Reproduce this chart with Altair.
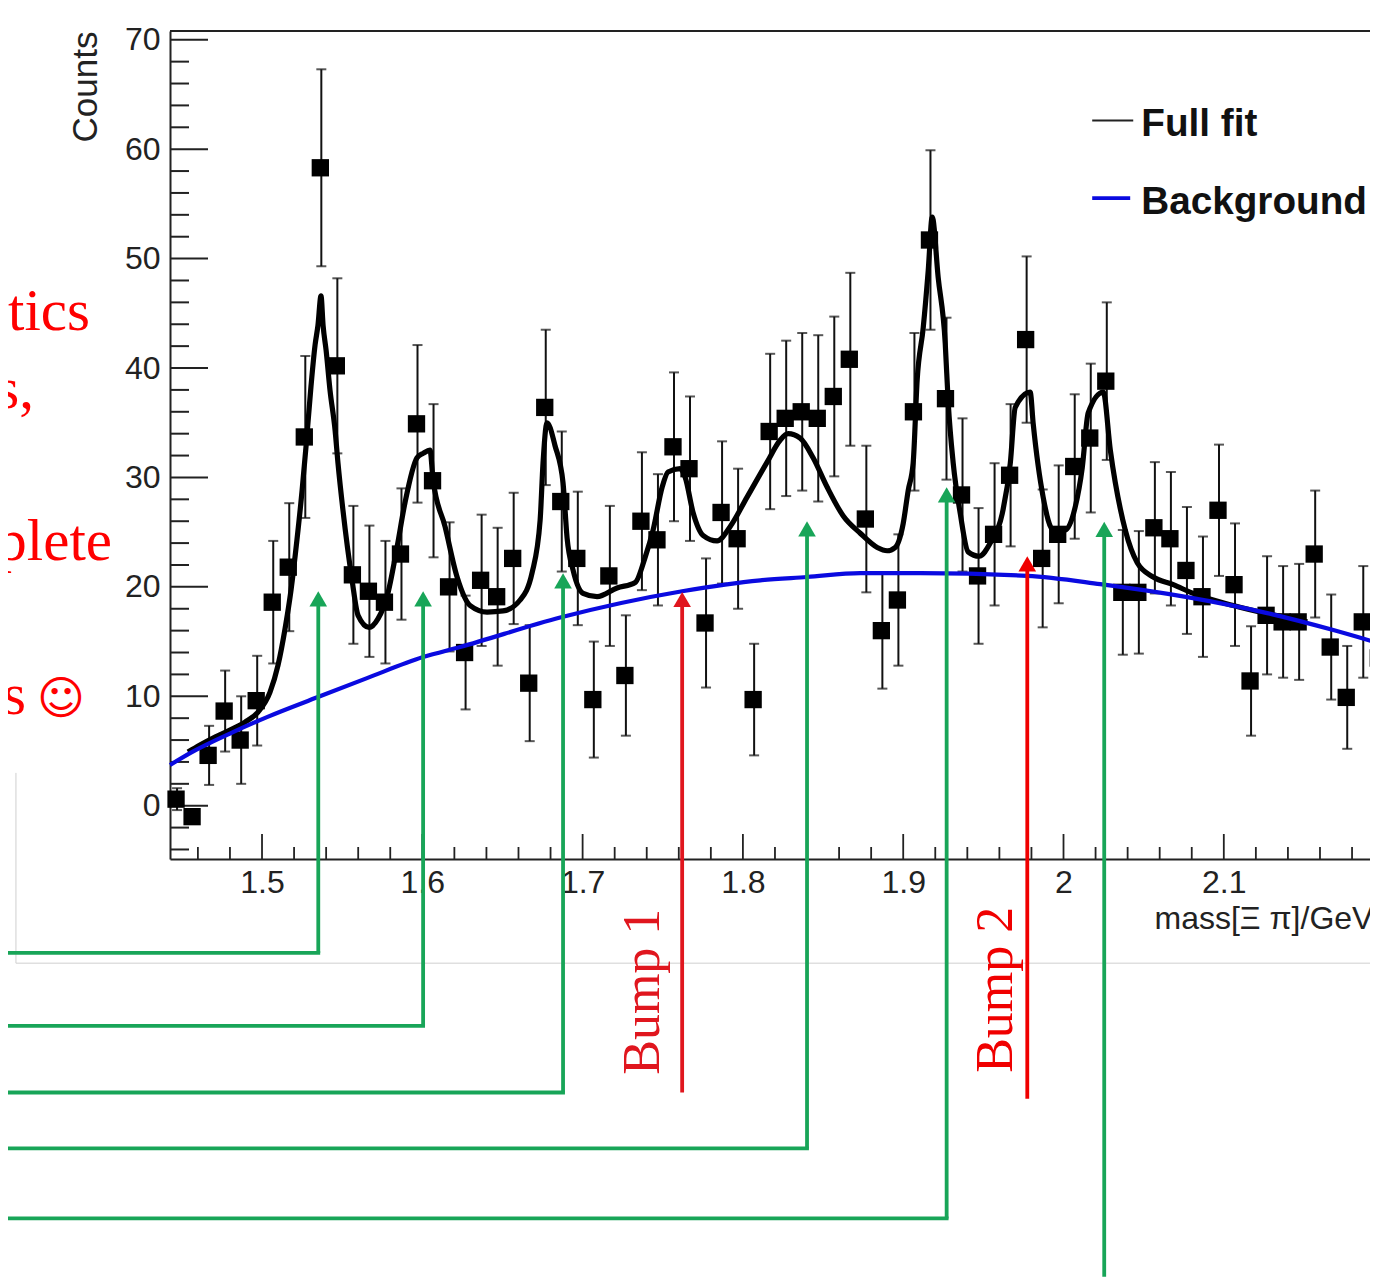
import altair as alt
import pandas as pd

# ---- measured data -------------------------------------------------------
bin_x = [1.447,1.457,1.467,1.477,1.487,1.497,1.507,1.517,1.527,1.537,1.547,1.557,1.567,1.577,1.587,1.597,
         1.607,1.617,1.627,1.637,1.647,1.657,1.667,1.677,1.687,1.697,1.707,1.717,1.727,1.737,1.747,1.757,
         1.767,1.777,1.787,1.797,1.807,1.817,1.827,1.837,1.847,1.857,1.867,1.877,1.887,1.897,1.907,1.917,
         1.927,1.937,1.947,1.957,1.967,1.977,1.987,1.997,2.007,2.017,2.027,2.037,2.047,2.057,2.067,2.077,
         2.087,2.097,2.107,2.117,2.127,2.137,2.147,2.157,2.167,2.177,2.187,2.197]
counts = [0.6,-1.0,4.6,8.65,6.0,9.6,18.6,21.8,33.7,58.3,40.2,21.1,19.6,18.6,23.0,34.9,
          29.7,20.0,14.0,20.6,19.1,22.6,11.2,36.4,27.8,22.6,9.7,21.0,11.9,26.0,24.3,32.8,
          30.8,16.7,26.8,24.4,9.7,34.2,35.4,36.0,35.4,37.4,40.8,26.2,16.0,18.8,36.0,51.7,
          37.2,28.4,21.0,24.8,30.2,42.6,22.6,24.8,31.0,33.6,38.8,19.5,19.5,25.4,24.4,21.5,
          19.1,27.0,20.2,11.4,17.4,16.8,16.8,23.0,14.5,9.9,16.8,13.5]
errors = [1.0,0.0,2.7,3.7,4.0,4.1,5.6,5.85,7.4,9.0,8.0,6.3,6.0,5.6,6.0,7.2,
          7.0,5.9,5.2,6.0,6.3,6.0,5.3,7.1,6.4,6.1,5.3,6.4,5.5,6.3,6.0,6.8,
          6.6,5.9,6.5,6.4,5.1,7.1,7.1,7.2,7.6,7.3,7.9,6.7,5.3,6.0,7.2,8.2,
          7.4,7.0,6.2,6.5,6.5,7.6,6.3,6.3,6.6,6.8,7.2,5.7,5.6,6.0,6.1,5.8,
          5.5,6.0,5.6,5.0,5.4,5.1,5.3,5.8,4.8,4.7,5.1,4.9]

fit_x = [1.4538,1.4613,1.4707,1.48,1.4894,1.4975,1.505,1.51,1.5144,1.5181,1.5218,1.525,1.5275,1.5306,1.5331,1.5349,
         1.5368,1.5381,1.54,1.5424,1.5456,1.5474,1.5505,1.5562,1.5599,1.5668,1.5724,1.578,1.5842,1.5892,1.5967,1.6005,
         1.6048,1.6067,1.6142,1.6217,1.6298,1.6404,1.6504,1.661,1.6685,1.6735,1.6753,1.6778,1.6828,1.6878,1.6903,1.6941,
         1.7003,1.709,1.7215,1.7328,1.739,1.744,1.7496,1.7533,1.7608,1.764,1.7689,1.7752,1.7839,1.792,1.8026,1.8151,
         1.8232,1.8282,1.8357,1.8438,1.8526,1.8625,1.8732,1.8838,1.89,1.895,1.9,1.9031,1.9062,1.9087,1.9125,1.9156,
         1.9181,1.9218,1.9262,1.9281,1.9312,1.9356,1.9405,1.9474,1.9543,1.9618,1.9668,1.9699,1.9792,1.9811,1.9873,1.9936,
         2.0011,2.0073,2.0117,2.0154,2.0248,2.0292,2.0385,2.046,2.056,2.0685,2.0809,2.1059,2.1521]
fit_y = [4.9,5.54,6.27,6.91,7.64,8.56,10.38,12.85,16.2,19.7,24.3,28.8,32.9,38.4,42.1,43.9,
         46.6,43.9,41.6,38.0,34.3,31.3,27.0,20.6,17.4,16.3,17.1,19.1,23.6,27.7,31.8,32.2,
         32.5,29.8,25.5,20.9,18.3,17.7,17.8,18.8,21.3,26.1,31.3,35.0,32.9,29.5,24.5,21.5,
         19.4,19.1,19.9,20.4,22.7,25.2,29.1,30.5,30.8,30.0,26.8,24.7,24.2,25.5,28.2,31.4,
         33.4,34.0,33.6,31.8,29.1,26.5,24.9,23.6,23.3,23.6,25.8,28.8,31.3,38.9,43.7,48.9,
         53.8,48.3,42.3,36.8,31.3,26.7,23.2,22.8,24.0,26.7,31.3,36.4,37.8,34.9,28.2,25.2,
         25.2,27.3,30.9,35.9,37.8,32.5,25.2,22.2,20.9,20.2,19.4,18.3,16.8]

bkg_x = [1.4426,1.4551,1.4819,1.5031,1.5349,1.5655,1.6005,1.6236,1.686,1.7621,1.8108,1.84,1.8732,1.9106,
         1.9774,2.0229,2.0772,2.1271,2.1683,2.1964]
bkg_y = [3.72,4.81,6.73,8.1,9.93,11.66,13.58,14.5,17.2,19.6,20.6,20.9,21.25,21.25,
         21.0,20.25,19.06,17.6,16.05,14.86]

x_major = [1.5,1.6,1.7,1.8,1.9,2.0,2.1,2.2]
x_minor = [1.46,1.48,1.52,1.54,1.56,1.58,1.62,1.64,1.66,1.68,1.72,1.74,1.76,1.78,1.82,1.84,1.86,1.88,
           1.92,1.94,1.96,1.98,2.02,2.04,2.06,2.08,2.12,2.14,2.16,2.18]
y_major = [0,10,20,30,40,50,60,70]
y_minor = [-4,-2,2,4,6,8,12,14,16,18,22,24,26,28,32,34,36,38,42,44,46,48,52,54,56,58,62,64,66,68]

X_MIN, X_MAX = 1.4426, 2.1912
Y_MIN, Y_MAX = -4.87, 70.8

# arrows: x position, tip, tail end, level of the horizontal leader
green_x    = [1.5351,1.6005,1.6878,1.84,1.9271,2.0254]
green_tip  = [19.6,19.6,21.25,26.0,29.1,25.94]
green_end  = [-13.45,-20.12,-26.21,-31.32,-37.72,-43.04]
leader_x   = [1.5351,1.6005,1.6878,1.84,1.9271]
leader_y   = [-13.45,-20.12,-26.21,-31.32,-37.72]
LEADER_LEFT = 1.33
red_x      = [1.7621,1.9774]
red_tip    = [19.54,22.8]
red_end    = [-26.21,-26.79]
red_colors = ["#e0161e","#f00000"]
bump_text  = ["Bump 1","Bump 2"]
bump_x     = [1.7474,1.968]
bump_y     = [-24.59,-24.41]

side_text  = ["tics","s,","plete","s"]
side_x     = [1.3927,1.3577,1.4064,1.3527]
side_y     = [43.44,36.32,22.44,8.37]
smile_x, smile_y = [1.3746],[8.37]

leg_text = ["Full fit","Background"]
leg_x1 = [2.0179,2.0179]
leg_x2 = [2.0435,2.0416]
leg_ly = [62.62,55.53]
leg_tx = [2.0485,2.0485]
leg_ty = [61.17,54.05]
leg_col = ["#222222","#0a0ae0"]
leg_w = [1.8,3.6]

grey_x, grey_top, grey_bot = 1.3465, 3.0, -14.39

INK = "#222222"
GREEN = "#18a558"
W, H = 1200, 828
sx = alt.Scale(domain=[X_MIN, X_MAX], nice=False, zero=False)
sy = alt.Scale(domain=[Y_MIN, Y_MAX], nice=False, zero=False)

# axes (labels and titles; ticks point inward and are drawn as rules below)
axis_x = alt.Axis(values=x_major, format="~g", ticks=False, grid=False, domain=True,
                  domainColor=INK, domainWidth=2, labelFont="Liberation Sans", labelFontSize=32,
                  labelColor=INK, labelPadding=8, labelOverlap=False, labelBound=False, labelFlush=False,
                  titleFont="Liberation Sans", titleFontSize=32, titleFontWeight="normal",
                  titleColor=INK, titleAlign="left", titleAnchor="start", titleX=984, titleY=69,
                  titleBaseline="alphabetic")
axis_y = alt.Axis(values=y_major, ticks=False, grid=False, domain=True,
                  domainColor=INK, domainWidth=2, labelFont="Liberation Sans", labelFontSize=32,
                  labelColor=INK, labelPadding=10, labelOverlap=False, labelBound=False, labelFlush=False,
                  titleFont="Liberation Sans", titleFontSize=35, titleFontWeight="normal",
                  titleColor=INK, titleAngle=270, titleAlign="right", titleBaseline="alphabetic",
                  titleX=-74, titleY=0)
XT = "mass[\u039e \u03c0]/GeV"
YT = "Counts"

def X(f="x"):
    return alt.X(f"{f}:Q", scale=sx, axis=axis_x, title=XT)
def Y(f="y"):
    return alt.Y(f"{f}:Q", scale=sy, axis=axis_y, title=YT)

# grey slide-box behind everything
grey_v = alt.Chart(pd.DataFrame({"x": [grey_x], "y": [grey_top], "y2": [grey_bot]})).mark_rule(color="#cfcfcf", strokeWidth=1).encode(
    x=X(), y=Y(), y2="y2:Q")
grey_h = alt.Chart(pd.DataFrame({"x": [grey_x], "x2": [X_MAX], "y": [grey_bot]})).mark_rule(color="#cfcfcf", strokeWidth=1).encode(
    x=X(), x2="x2:Q", y=Y())

# frame top and inward ticks
top = alt.Chart(pd.DataFrame({"y": [Y_MAX]})).mark_rule(color=INK, strokeWidth=2).encode(
    y=Y(), x=alt.value(0), x2=alt.value(W))
ymaj = alt.Chart(pd.DataFrame({"y": y_major})).mark_rule(color=INK, strokeWidth=2).encode(
    y=Y(), x=alt.value(0), x2=alt.value(38))
ymin = alt.Chart(pd.DataFrame({"y": y_minor})).mark_rule(color=INK, strokeWidth=2).encode(
    y=Y(), x=alt.value(0), x2=alt.value(19))
xmaj = alt.Chart(pd.DataFrame({"x": x_major[:-1]})).mark_rule(color=INK, strokeWidth=1.8).encode(
    x=X(), y=alt.value(H), y2=alt.value(H - 25))
xmin = alt.Chart(pd.DataFrame({"x": x_minor})).mark_rule(color=INK, strokeWidth=1.8).encode(
    x=X(), y=alt.value(H), y2=alt.value(H - 12))

# data points
pts = pd.DataFrame({"x": bin_x, "y": counts, "e": errors})
pts["lo"] = pts["y"] - pts["e"]
pts["hi"] = pts["y"] + pts["e"]
stems = alt.Chart(pts).mark_rule(color="#111111", strokeWidth=2).encode(x=X(), y=Y("lo"), y2="hi:Q")
cap_lo = alt.Chart(pts).mark_tick(color="#111111", orient="horizontal", size=10, thickness=2).encode(x=X(), y=Y("lo"))
cap_hi = alt.Chart(pts).mark_tick(color="#111111", orient="horizontal", size=10, thickness=2).encode(x=X(), y=Y("hi"))
squares = alt.Chart(pts).mark_square(color="#000000", size=300, opacity=1, filled=True, xOffset=-1).encode(x=X(), y=Y())

# curves
fit = alt.Chart(pd.DataFrame({"x": fit_x, "y": fit_y})).mark_line(color="#000000", strokeWidth=5.2, interpolate="monotone").encode(
    x=X(), y=Y(), order="x:Q")
bkg = alt.Chart(pd.DataFrame({"x": bkg_x, "y": bkg_y})).mark_line(color="#0a0ae0", strokeWidth=4.2, interpolate="monotone").encode(
    x=X(), y=Y(), order="x:Q")

# legend
leg = pd.DataFrame({"x": leg_x1, "x2": leg_x2, "y": leg_ly, "c": leg_col, "w": leg_w})
leg_lines = alt.Chart(leg).mark_rule().encode(
    x=X(), x2="x2:Q", y=Y(),
    color=alt.Color("c:N", scale=None), strokeWidth=alt.StrokeWidth("w:Q", scale=None))
leg_labels = alt.Chart(pd.DataFrame({"x": leg_tx, "y": leg_ty, "t": leg_text})).mark_text(
    font="Liberation Sans", fontWeight="bold", fontSize=38.7, color="#111111", align="left", baseline="alphabetic").encode(
    x=X(), y=Y(), text="t:N")

# arrows
g = pd.DataFrame({"x": green_x, "tip": green_tip, "end": green_end})
g["top"] = g["tip"] - 1.0
g_lines = alt.Chart(g).mark_rule(color=GREEN, strokeWidth=3.8).encode(x=X(), y=Y("top"), y2="end:Q")
g_heads = alt.Chart(g).mark_point(shape="triangle-up", filled=True, color=GREEN, size=310, opacity=1, yOffset=7.6).encode(x=X(), y=Y("tip"))
l = pd.DataFrame({"x": [LEADER_LEFT] * len(leader_x), "x2": leader_x, "y": leader_y})
g_leads = alt.Chart(l).mark_rule(color=GREEN, strokeWidth=3.8, strokeCap="square").encode(x=X(), x2="x2:Q", y=Y())

r = pd.DataFrame({"x": red_x, "tip": red_tip, "end": red_end, "c": red_colors})
r["top"] = r["tip"] - 1.0
r_lines = alt.Chart(r).mark_rule(strokeWidth=3.8).encode(x=X(), y=Y("top"), y2="end:Q", color=alt.Color("c:N", scale=None))
r_heads = alt.Chart(r).mark_point(shape="triangle-up", filled=True, size=310, opacity=1, yOffset=7.6).encode(
    x=X(), y=Y("tip"), color=alt.Color("c:N", scale=None))
bump = alt.Chart(pd.DataFrame({"x": bump_x, "y": bump_y, "t": bump_text, "c": red_colors})).mark_text(
    font="Liberation Serif", fontSize=52, angle=270, align="left", baseline="alphabetic").encode(
    x=X(), y=Y(), text="t:N", color=alt.Color("c:N", scale=None))

# clipped slide text at the left edge
side = alt.Chart(pd.DataFrame({"x": side_x, "y": side_y, "t": side_text})).mark_text(
    font="Liberation Serif", fontSize=59, color="#ff0000", align="right", baseline="alphabetic").encode(
    x=X(), y=Y(), text="t:N")
smile = alt.Chart(pd.DataFrame({"x": smile_x, "y": smile_y, "t": ["\u263a"]})).mark_text(
    font="DejaVu Sans", fontSize=46, color="#ff0000", align="center", baseline="alphabetic").encode(
    x=X(), y=Y(), text="t:N")

chart = alt.layer(
    grey_v, grey_h, top, ymaj, ymin, xmaj, xmin,
    stems, cap_lo, cap_hi, squares, fit, bkg,
    leg_lines, leg_labels,
    g_leads, g_lines, g_heads, r_lines, r_heads, bump, side, smile,
).properties(
    width=W, height=H,
    autosize=alt.AutoSizeParams(type="none"),
    padding={"left": 162, "top": 23, "right": 0, "bottom": 418},
    background="#ffffff",
).configure_view(stroke=None)

chart.save("out.html", embed_options={"renderer": "svg", "actions": False})
